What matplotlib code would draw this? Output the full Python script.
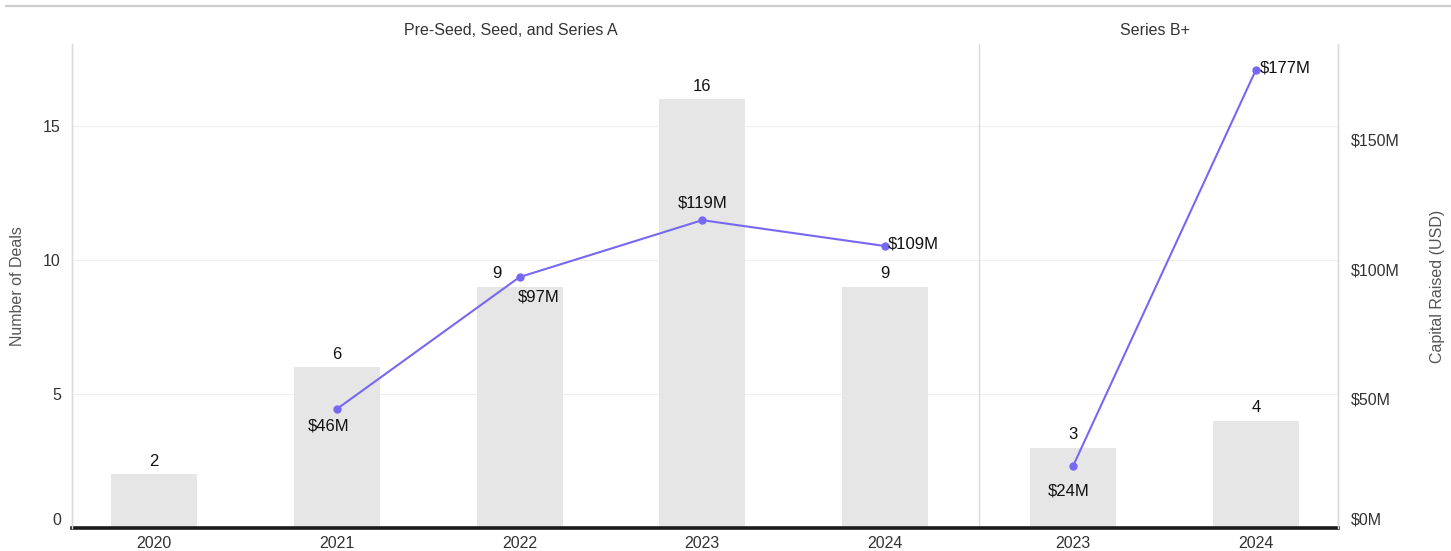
import matplotlib
matplotlib.use("Agg")
import matplotlib.pyplot as plt
from matplotlib.lines import Line2D
import numpy as np

plt.rcParams['font.family'] = ['Liberation Sans', 'DejaVu Sans']

# Data
panel_titles = ["Pre-Seed, Seed, and Series A", "Series B+"]
years_early = ["2020", "2021", "2022", "2023", "2024"]
deals_early = [2, 6, 9, 16, 9]
capital_early = [np.nan, 46, 97, 119, 109]   # $M, no figure for 2020
years_late = ["2023", "2024"]
deals_late = [3, 4]
capital_late = [24, 177]                      # $M

BAR = "#e6e6e6"
LINE = "#7668f2"
TEXT = "#333333"
AXIS_GRAY = "#dcdcdc"

fig = plt.figure(figsize=(14.51, 5.51), dpi=100)
ax = fig.add_axes([72 / 1451, 1 - 528 / 551, (1338 - 72) / 1451, (528 - 44) / 551])
ax2 = ax.twinx()

panel_gap = 0.03
x_early = np.arange(len(years_early), dtype=float)
x_late = len(years_early) + panel_gap + np.arange(len(years_late))
bar_w = 0.47

# Bars: number of deals (label x-nudges in points keep them clear of the line)
deal_label_dx_early = [0, 0, -16, 0, 0]
deal_label_dx_late = [0, 0]
for xs, ds, ddx in ((x_early, deals_early, deal_label_dx_early),
                    (x_late, deals_late, deal_label_dx_late)):
    ax.bar(xs, ds, width=bar_w, color=BAR, zorder=2)
    for xi, d, dx in zip(xs, ds, ddx):
        ax.annotate(f"{d}", (xi, d), xytext=(dx, 9.5), textcoords="offset points",
                    ha="center", va="center", fontsize=12, color="#111111", zorder=5)

# Lines: capital raised
ax2.plot(x_early, capital_early, color=LINE, lw=1.5, marker="o", ms=5, zorder=4)
ax2.plot(x_late, capital_late, color=LINE, lw=1.5, marker="o", ms=5, zorder=4)

cap_offsets_early = [None, (-6, -12, "center"), (14, -14, "center"), (0, 12, "center"), (2, 1.5, "left")]
cap_offsets_late = [(-3.5, -18, "center"), (3, 1.5, "left")]
for xs, cs, offs in ((x_early, capital_early, cap_offsets_early),
                     (x_late, capital_late, cap_offsets_late)):
    for xi, c, off in zip(xs, cs, offs):
        if off is None or np.isnan(c):
            continue
        dx, dy, ha = off
        ax2.annotate(f"${c:.0f}M", (xi, c), xytext=(dx, dy), textcoords="offset points",
                     ha=ha, va="center", fontsize=12, color="#111111", zorder=6)

# Scales
ax.set_xlim(-0.45, 6.48)
ax.set_ylim(0, 18.06)
ax2.set_ylim(0, 187.1)

ax.set_xticks(np.concatenate([x_early, x_late]))
ax.set_xticklabels(years_early + years_late)
ax.set_yticks([0, 5, 10, 15])
ax2.set_yticks([0, 50, 100, 150])
ax2.set_yticklabels([f"${v}M" for v in [0, 50, 100, 150]])

ax.tick_params(axis="x", length=0, pad=5.5, labelsize=11.5, labelcolor=TEXT)
ax.tick_params(axis="y", length=0, pad=8, labelsize=11.5, labelcolor=TEXT)
ax2.tick_params(axis="y", length=0, pad=9, labelsize=11.5, labelcolor=TEXT)

# Lift the zero labels off the heavy baseline
for lbl in (ax.get_yticklabels()[0], ax2.get_yticklabels()[0]):
    lbl.set_va("bottom")

ax.yaxis.grid(True, color="#efefef", lw=0.8, zorder=0)
ax.set_axisbelow(True)

for a in (ax, ax2):
    a.spines["top"].set_visible(False)
    a.spines["left"].set_color(AXIS_GRAY)
    a.spines["right"].set_color(AXIS_GRAY)
    a.spines["left"].set_linewidth(1)
    a.spines["right"].set_linewidth(1)
    a.spines["bottom"].set_visible(False)
ax.spines["bottom"].set_visible(True)
ax.spines["bottom"].set_color("#1a1a1a")
ax.spines["bottom"].set_linewidth(2.6)
ax.spines["bottom"].set_zorder(6)

# Panel divider
divider_x = (x_early[-1] + x_late[0]) / 2
ax.axvline(divider_x, color=AXIS_GRAY, lw=1, zorder=1)

# Panel titles
for title, xs in zip(panel_titles, (x_early, x_late)):
    ax.text(np.mean(xs) - 0.05, 1.027, title, transform=ax.get_xaxis_transform(),
            ha="center", va="center", fontsize=11.5, color=TEXT)

ax.set_ylabel("Number of Deals", fontsize=11.5, color="#555555")
ax2.set_ylabel("Capital Raised (USD)", fontsize=11.5, color="#555555")
ax.yaxis.set_label_coords(-0.037, 0.5)
ax2.yaxis.set_label_coords(1.073, 0.5)

# Top rule
fig.add_artist(Line2D([6 / 1451, 1], [1 - 5.5 / 551] * 2, color="#cccccc", lw=1.6,
                      transform=fig.transFigure))

fig.savefig("out.png", dpi=100)
